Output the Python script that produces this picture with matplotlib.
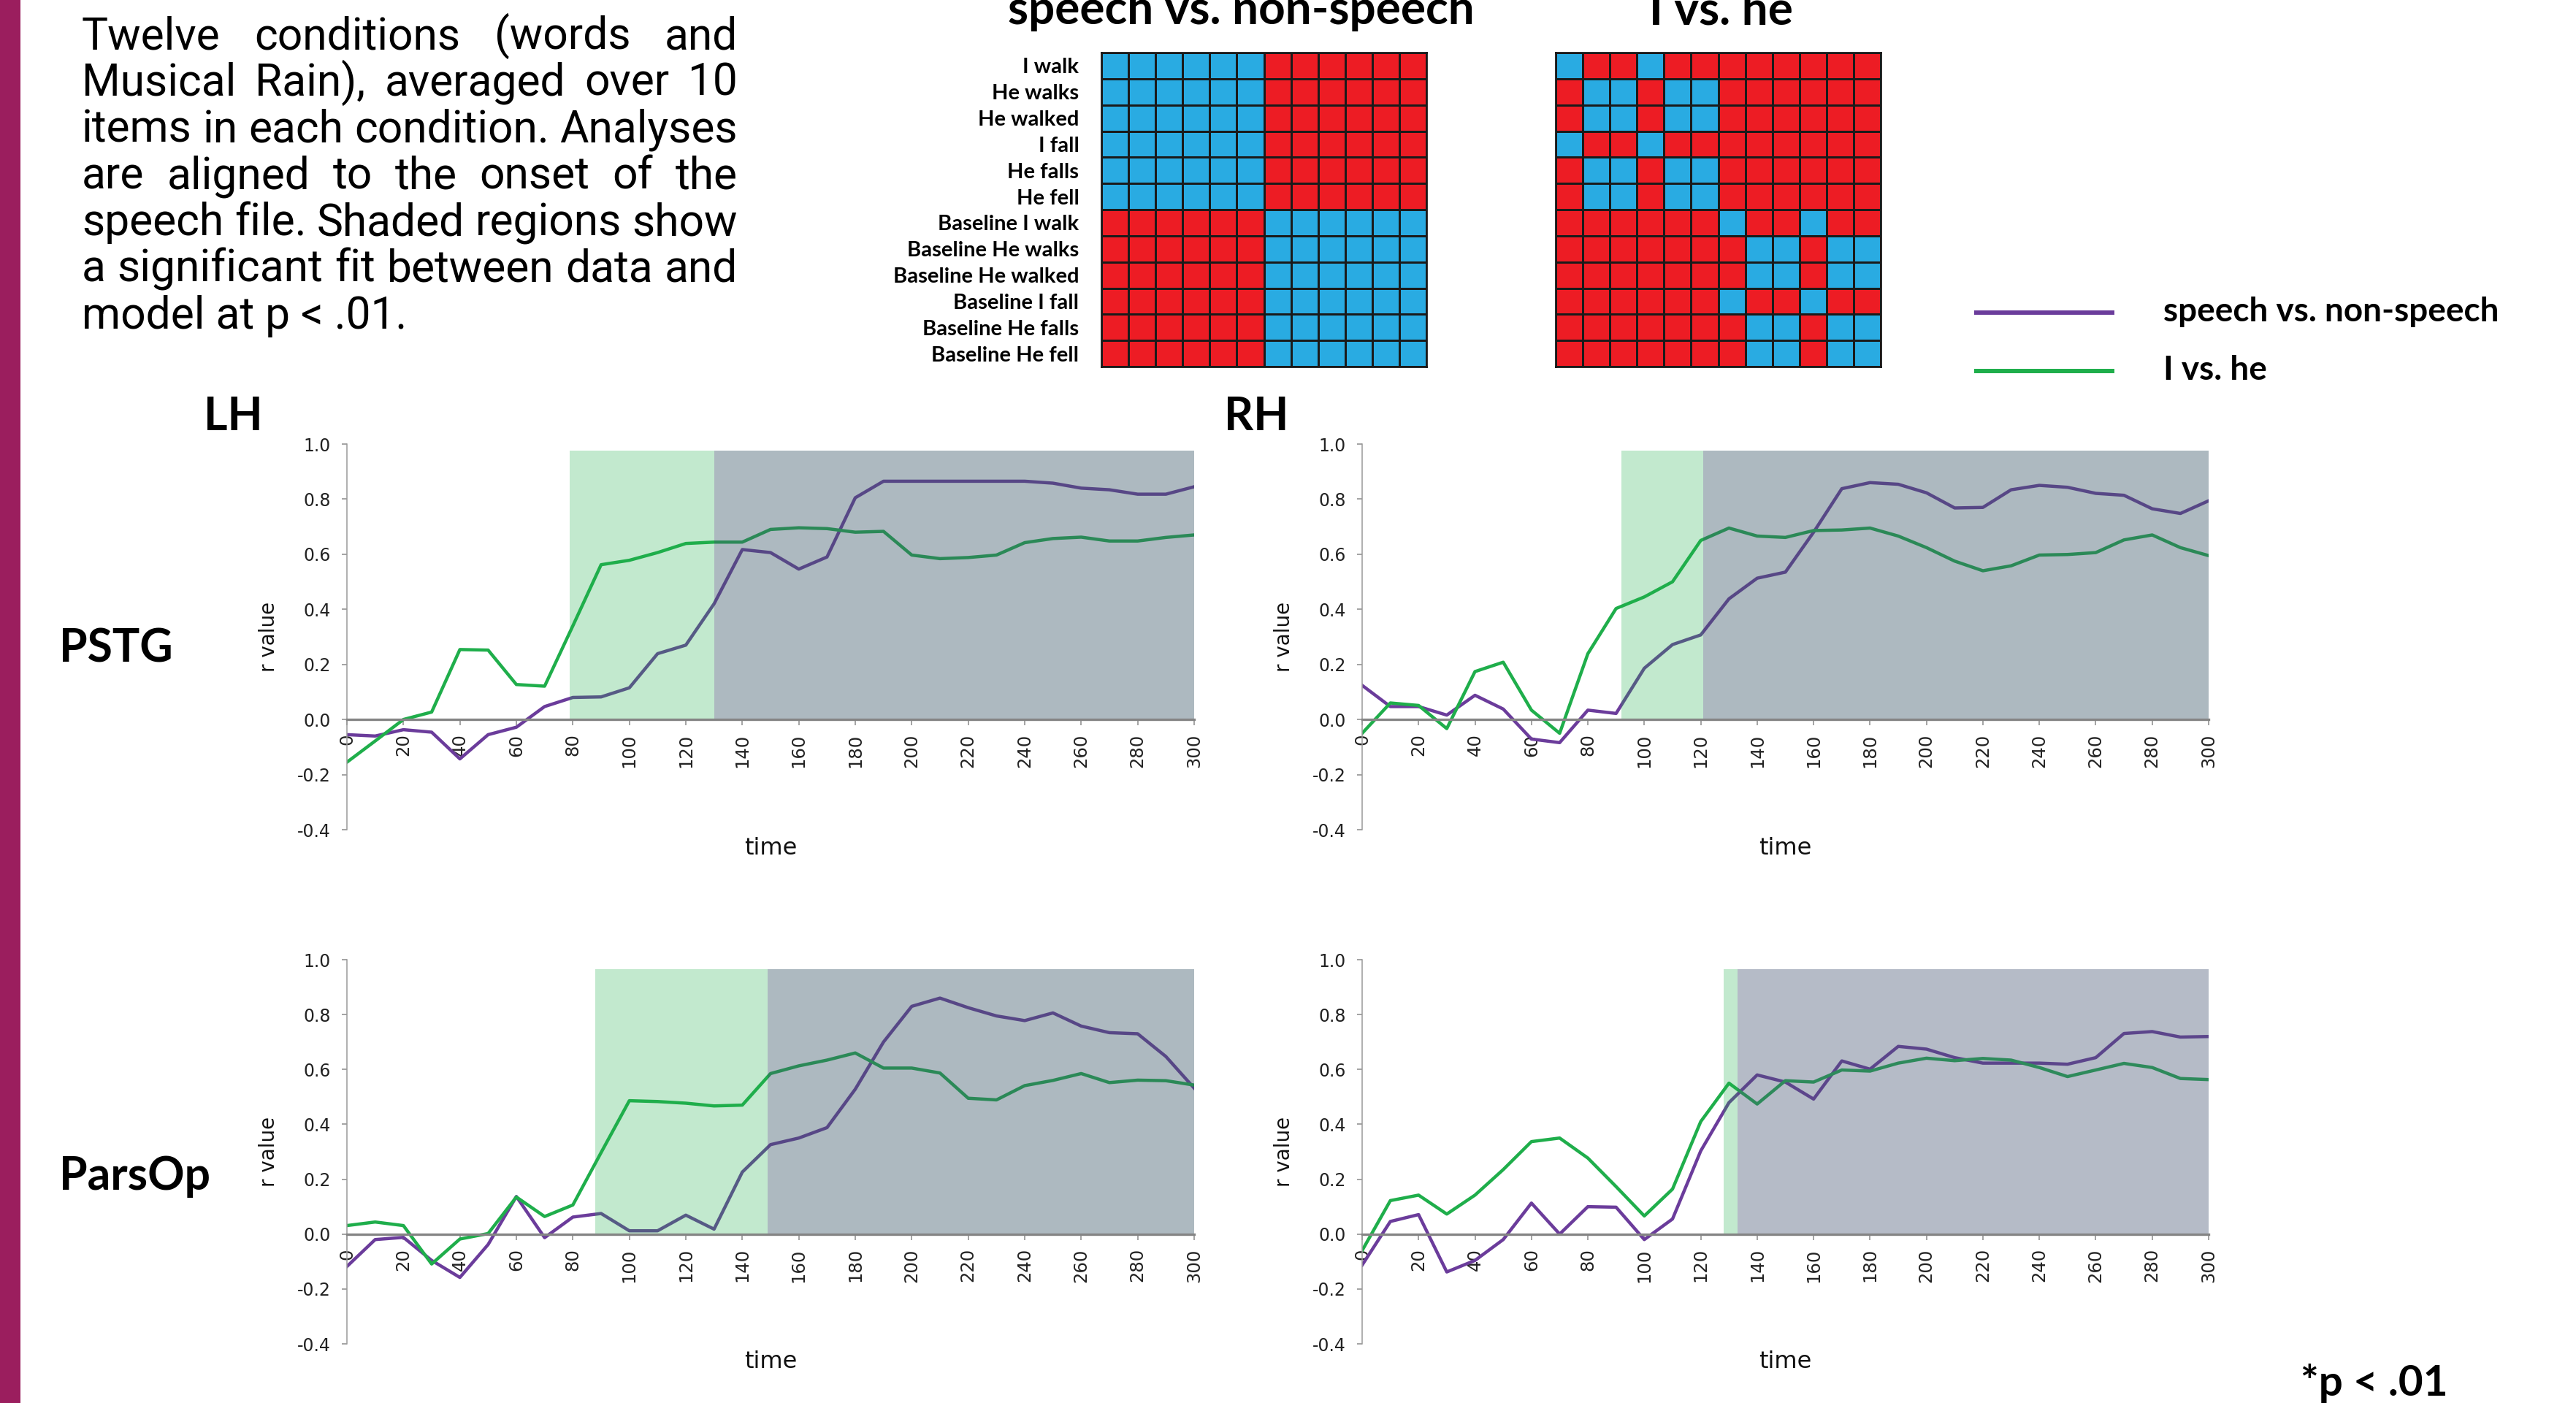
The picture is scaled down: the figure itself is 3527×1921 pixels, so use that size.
import matplotlib
matplotlib.use('Agg')
import matplotlib.pyplot as plt
from matplotlib.colors import ListedColormap
from matplotlib.lines import Line2D
from matplotlib.patches import Rectangle
import numpy as np

W, H, DPI = 3527, 1921, 100

# ---------------- data ----------------
time_ms = [0, 10, 20, 30, 40, 50, 60, 70, 80, 90, 100, 110, 120, 130, 140, 150,
           160, 170, 180, 190, 200, 210, 220, 230, 240, 250, 260, 270, 280, 290, 300]
time_ticks = [0, 20, 40, 60, 80, 100, 120, 140, 160, 180, 200, 220, 240, 260, 280, 300]
r_ticks = [-0.4, -0.2, 0.0, 0.2, 0.4, 0.6, 0.8, 1.0]

lh_pstg_speech = [-0.055, -0.06, -0.037, -0.046, -0.143, -0.055, -0.028, 0.047, 0.08, 0.082,
                  0.115, 0.239, 0.27, 0.42, 0.617, 0.606, 0.546, 0.59, 0.805, 0.865, 0.865,
                  0.865, 0.865, 0.865, 0.865, 0.858, 0.84, 0.834, 0.818, 0.818, 0.845]
lh_pstg_ihe = [-0.155, -0.078, 0.0, 0.027, 0.254, 0.252, 0.127, 0.121, 0.34, 0.562, 0.578,
               0.606, 0.639, 0.644, 0.644, 0.69, 0.696, 0.693, 0.68, 0.683, 0.597, 0.584,
               0.588, 0.597, 0.642, 0.657, 0.662, 0.648, 0.648, 0.661, 0.67]
rh_pstg_speech = [0.124, 0.047, 0.047, 0.016, 0.088, 0.038, -0.071, -0.084, 0.034, 0.022,
                  0.186, 0.272, 0.307, 0.438, 0.513, 0.535, 0.68, 0.838, 0.86, 0.854, 0.823,
                  0.768, 0.77, 0.834, 0.85, 0.843, 0.821, 0.814, 0.765, 0.748, 0.794]
rh_pstg_ihe = [-0.05, 0.06, 0.051, -0.033, 0.174, 0.208, 0.034, -0.05, 0.239, 0.403, 0.445,
               0.5, 0.65, 0.695, 0.666, 0.661, 0.686, 0.688, 0.695, 0.666, 0.624, 0.575,
               0.54, 0.558, 0.597, 0.599, 0.606, 0.652, 0.67, 0.624, 0.595]
lh_parsop_speech = [-0.118, -0.02, -0.012, -0.096, -0.158, -0.038, 0.137, -0.013, 0.062, 0.075,
                    0.012, 0.012, 0.069, 0.018, 0.226, 0.326, 0.35, 0.388, 0.528, 0.70, 0.83,
                    0.86, 0.825, 0.795, 0.778, 0.806, 0.758, 0.734, 0.73, 0.647, 0.532]
lh_parsop_ihe = [0.031, 0.044, 0.031, -0.109, -0.018, 0.002, 0.135, 0.064, 0.106, 0.297, 0.486,
                 0.483, 0.477, 0.467, 0.47, 0.585, 0.613, 0.634, 0.66, 0.605, 0.605, 0.587,
                 0.495, 0.489, 0.541, 0.56, 0.585, 0.552, 0.561, 0.559, 0.543]
rh_parsop_speech = [-0.113, 0.046, 0.071, -0.138, -0.096, -0.02, 0.113, 0.0, 0.10, 0.098,
                    -0.02, 0.055, 0.303, 0.479, 0.58, 0.554, 0.492, 0.631, 0.601, 0.684, 0.674,
                    0.643, 0.623, 0.623, 0.623, 0.619, 0.643, 0.731, 0.738, 0.718, 0.72]
rh_parsop_ihe = [-0.06, 0.122, 0.142, 0.073, 0.142, 0.235, 0.337, 0.35, 0.277, 0.173, 0.066,
                 0.164, 0.41, 0.55, 0.474, 0.559, 0.554, 0.598, 0.594, 0.623, 0.641, 0.632,
                 0.64, 0.634, 0.607, 0.574, 0.598, 0.622, 0.607, 0.567, 0.563]

# significant windows (ms): I vs. he (green) and speech vs. non-speech (grey)
lh_pstg_sig_ihe, lh_pstg_sig_speech = (79, 130), (130, 300)
rh_pstg_sig_ihe, rh_pstg_sig_speech = (92, 121), (121, 300)
lh_parsop_sig_ihe, lh_parsop_sig_speech = (88, 149), (149, 300)
rh_parsop_sig_ihe, rh_parsop_sig_speech = (128, 133), (133, 300)

condition_labels = ["I walk", "He walks", "He walked", "I fall", "He falls", "He fell",
                    "Baseline I walk", "Baseline He walks", "Baseline He walked",
                    "Baseline I fall", "Baseline He falls", "Baseline He fell"]
speech_model = ["111111000000"] * 6 + ["000000111111"] * 6
ihe_model = ["100100000000", "011011000000", "011011000000", "100100000000",
             "011011000000", "011011000000", "000000100100", "000000011011",
             "000000011011", "000000100100", "000000011011", "000000011011"]

series_names = ["speech vs. non-speech", "I vs. he"]
description = ["Twelve conditions (words and",
               "Musical Rain), averaged over 10",
               "items in each condition. Analyses",
               "are aligned to the onset of the",
               "speech file. Shaded regions show",
               "a significant fit between data and",
               "model at p < .01."]

# ---------------- style ----------------
PURPLE = '#6b3c9b'
GREEN = '#1fae4b'
BLUE = '#29abe2'
RED = '#ed1c24'
STRIPE = '#9b1e5e'
BOLD = ['Lato', 'DejaVu Sans']

fig = plt.figure(figsize=(W / DPI, H / DPI), dpi=DPI)
fig.patch.set_facecolor('white')

def fx(px):
    return px / W

def fy(py):
    return 1 - py / H

fig.add_artist(Rectangle((0, 0), 28 / W, 1, transform=fig.transFigure,
                         facecolor=STRIPE, edgecolor='none'))

# ---------------- line panels ----------------
panels = [
    (475, 608, 1160, 1136, lh_pstg_speech, lh_pstg_ihe, lh_pstg_sig_ihe, lh_pstg_sig_speech, 0.975, ('#3c5869', 0.42)),
    (1865, 608, 1159, 1136, rh_pstg_speech, rh_pstg_ihe, rh_pstg_sig_ihe, rh_pstg_sig_speech, 0.975, ('#3c5869', 0.42)),
    (475, 1314, 1160, 1840, lh_parsop_speech, lh_parsop_ihe, lh_parsop_sig_ihe, lh_parsop_sig_speech, 0.965, ('#3c5869', 0.42)),
    (1865, 1314, 1159, 1840, rh_parsop_speech, rh_parsop_ihe, rh_parsop_sig_ihe, rh_parsop_sig_speech, 0.965, ('#465575', 0.40)),
]

for x0, ytop, w, ybot, sp, ih, sig_g, sig_s, stop, (gcol, galpha) in panels:
    ax = fig.add_axes([fx(x0), fy(ybot), w / W, (ybot - ytop) / H])
    ax.set_facecolor('none')
    ax.plot(time_ms, sp, color=PURPLE, lw=3.2, zorder=2, solid_joinstyle='round')
    ax.plot(time_ms, ih, color=GREEN, lw=3.2, zorder=2, solid_joinstyle='round')
    ax.fill_between(list(sig_g), -0.006, stop, color=GREEN, alpha=0.27, lw=0, zorder=3)
    ax.fill_between(list(sig_s), -0.006, stop, color=gcol, alpha=galpha, lw=0, zorder=3)
    ax.set_xlim(0, 300)
    ax.set_ylim(-0.4, 1.0)
    for s in ('top', 'right'):
        ax.spines[s].set_visible(False)
    ax.spines['left'].set_color('#9a9a9a')
    ax.spines['left'].set_linewidth(1.1)
    ax.spines['bottom'].set_position(('data', 0))
    ax.spines['bottom'].set_color('#858585')
    ax.spines['bottom'].set_linewidth(2.4)
    ax.spines['bottom'].set_zorder(4)
    ax.set_xticks(time_ticks)
    ax.set_xticklabels([str(t) for t in time_ticks], family='DejaVu Sans')
    ax.set_yticks(r_ticks)
    ax.set_yticklabels([f"{v:.1f}" for v in r_ticks], family='DejaVu Sans')
    ax.tick_params(axis='x', labelrotation=90, labelsize=17.5, length=6, width=1.1,
                   color='#8a8a8a', pad=8, labelcolor='#222222')
    ax.tick_params(axis='y', labelsize=17, length=5, width=1.1, color='#8a8a8a',
                   pad=11, labelcolor='#222222')
    ax.set_xlabel('time', fontsize=23, family='DejaVu Sans', color='#111111')
    ax.xaxis.set_label_coords(0.5, -0.018)
    ax.set_ylabel('r value', fontsize=20, family='DejaVu Sans', color='#111111')
    ax.yaxis.set_label_coords(-0.08, 0.5)

# ---------------- model matrices ----------------
cmap = ListedColormap([RED, BLUE])
for left, model, first in [(1508, speech_model, True), (2130, ihe_model, False)]:
    axm = fig.add_axes([fx(left), fy(502), 445 / W, 430 / H])
    M = np.array([[int(c) for c in row] for row in model])
    axm.pcolormesh(M, cmap=cmap, vmin=0, vmax=1, edgecolors='#1a1a1a', linewidth=2.0)
    axm.set_xlim(0, 12)
    axm.set_ylim(12, 0)
    axm.set_xticks([])
    for s in axm.spines.values():
        s.set_color('#1a1a1a')
        s.set_linewidth(2.0)
    if first:
        axm.set_yticks(np.arange(12) + 0.5)
        axm.set_yticklabels(condition_labels, family=BOLD, fontweight='bold', fontsize=21)
        axm.tick_params(axis='y', length=0, pad=22)
    else:
        axm.set_yticks([])

fig.text(fx(1699), fy(33), series_names[0], ha='center', va='baseline',
         family=BOLD, fontweight='bold', fontsize=46)
fig.text(fx(2356), fy(33), series_names[1], ha='center', va='baseline',
         family=BOLD, fontweight='bold', fontsize=46)

# ---------------- legend ----------------
for (ly, ty), col, name in [((428, 440), PURPLE, series_names[0]), ((508, 520), GREEN, series_names[1])]:
    fig.add_artist(Line2D([fx(2703), fx(2895)], [fy(ly), fy(ly)], transform=fig.transFigure,
                          color=col, lw=4.3, solid_capstyle='butt'))
    fig.text(fx(2962), fy(ty), name, ha='left', va='baseline', family=BOLD,
             fontweight='bold', fontsize=33)

# ---------------- panel labels ----------------
for txt, x, y in [('LH', 279, 589), ('RH', 1676, 589), ('PSTG', 81, 907), ('ParsOp', 81, 1629)]:
    fig.text(fx(x), fy(y), txt, ha='left', va='baseline', family=BOLD,
             fontweight='bold', fontsize=45)

fig.text(fx(3150), fy(1911), '*p < .01', ha='left', va='baseline', family=BOLD,
         fontweight='bold', fontsize=42)

# ---------------- justified description ----------------
renderer = fig.canvas.get_renderer()
DESC_FAMILY = ['Roboto', 'DejaVu Sans']

def text_width(s, size):
    t = fig.text(0, 0, s, fontsize=size, family=DESC_FAMILY)
    wdt = t.get_window_extent(renderer).width
    t.remove()
    return wdt

base = 30.0
space_w = text_width('x x', base) - text_width('xx', base)
nat = []
for line in description[:-1]:
    words = line.split(' ')
    nat.append(sum(text_width(wd, base) for wd in words) + space_w * (len(words) - 1))
left_px, right_px = 112, 1010
size = base * (right_px - left_px) / max(nat)
baselines = [67 + 63.8 * k for k in range(len(description))]
for k, line in enumerate(description):
    if k == len(description) - 1:
        fig.text(fx(left_px), fy(baselines[k]), line, fontsize=size, family=DESC_FAMILY,
                 ha='left', va='baseline', color='black')
        continue
    words = line.split(' ')
    widths = [text_width(wd, size) for wd in words]
    gap = (right_px - left_px - sum(widths)) / (len(words) - 1)
    xcur = left_px
    for wd, wdt in zip(words, widths):
        fig.text(fx(xcur), fy(baselines[k]), wd, fontsize=size, family=DESC_FAMILY,
                 ha='left', va='baseline', color='black')
        xcur += wdt + gap

fig.savefig('out.png', dpi=DPI, facecolor='white')
